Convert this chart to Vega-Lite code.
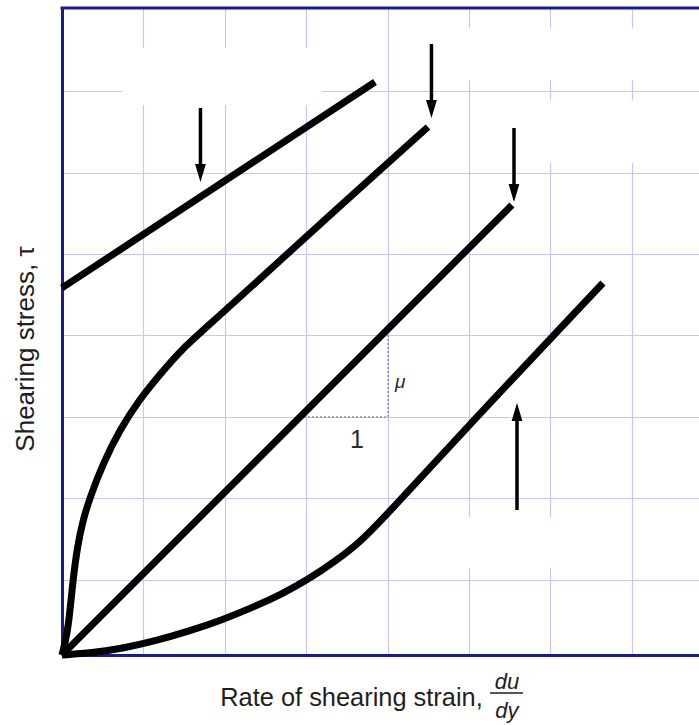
{
  "$schema": "https://vega.github.io/schema/vega-lite/v6.json",
  "width": 637,
  "height": 647,
  "autosize": {"type": "none"},
  "padding": {"left": 62, "top": 8, "right": 0, "bottom": 70},
  "background": "white",
  "config": {"view": {"stroke": null}, "font": "Liberation Sans"},
  "datasets": {
    "masks": [
      {"x0": 0.737, "x1": 3.194, "y0": 6.757, "y1": 7.457},
      {"x0": 4.705, "x1": 7.826, "y0": 7.064, "y1": 7.703},
      {"x0": 5.688, "x1": 7.826, "y0": 6.044, "y1": 6.818},
      {"x0": 4.95, "x1": 6.61, "y0": 1.069, "y1": 1.695}
    ],
    "curves": [
      {"curve": "bingham", "x": 0, "y": 4.509},
      {"curve": "bingham", "x": 3.845, "y": 7.039},
      {"curve": "thinning", "x": 0, "y": 0},
      {"curve": "thinning", "x": 0.061, "y": 0.246},
      {"curve": "thinning", "x": 0.095, "y": 0.512},
      {"curve": "thinning", "x": 0.135, "y": 0.921},
      {"curve": "thinning", "x": 0.188, "y": 1.33},
      {"curve": "thinning", "x": 0.258, "y": 1.658},
      {"curve": "thinning", "x": 0.34, "y": 1.925},
      {"curve": "thinning", "x": 0.504, "y": 2.355},
      {"curve": "thinning", "x": 0.709, "y": 2.764},
      {"curve": "thinning", "x": 0.946, "y": 3.133},
      {"curve": "thinning", "x": 1.229, "y": 3.477},
      {"curve": "thinning", "x": 1.474, "y": 3.759},
      {"curve": "thinning", "x": 1.781, "y": 4.029},
      {"curve": "thinning", "x": 3.538, "y": 5.627},
      {"curve": "thinning", "x": 4.496, "y": 6.486},
      {"curve": "newtonian", "x": 0, "y": 0},
      {"curve": "newtonian", "x": 5.528, "y": 5.528},
      {"curve": "thickening", "x": 0, "y": 0},
      {"curve": "thickening", "x": 0.369, "y": 0.025},
      {"curve": "thickening", "x": 0.737, "y": 0.08},
      {"curve": "thickening", "x": 1.143, "y": 0.172},
      {"curve": "thickening", "x": 1.548, "y": 0.289},
      {"curve": "thickening", "x": 1.966, "y": 0.43},
      {"curve": "thickening", "x": 2.371, "y": 0.596},
      {"curve": "thickening", "x": 2.703, "y": 0.749},
      {"curve": "thickening", "x": 3.034, "y": 0.934},
      {"curve": "thickening", "x": 3.354, "y": 1.149},
      {"curve": "thickening", "x": 3.661, "y": 1.388},
      {"curve": "thickening", "x": 3.919, "y": 1.646},
      {"curve": "thickening", "x": 5.012, "y": 2.838},
      {"curve": "thickening", "x": 6.646, "y": 4.57}
    ],
    "guides": [
      {"x": 2.924, "y": 2.924, "x2": 4.005, "y2": 2.924},
      {"x": 4.005, "y": 2.924, "x2": 4.005, "y2": 4.0}
    ],
    "arrows": [
      {"x": 1.701, "tail": 6.72, "tip": 5.811, "dir": "down"},
      {"x": 4.539, "tail": 7.506, "tip": 6.597, "dir": "down"},
      {"x": 5.553, "tail": 6.474, "tip": 5.565, "dir": "down"},
      {"x": 5.59, "tail": 1.781, "tip": 3.096, "dir": "up"}
    ],
    "notes": [
      {"key": "one", "t": "1", "x": 3.624, "y": 2.543},
      {"key": "mu", "t": "μ", "x": 4.09, "y": 3.28},
      {"key": "du", "t": "du", "x": 5.467, "y": -0.418},
      {"key": "dy", "t": "dy", "x": 5.467, "y": -0.774}
    ],
    "bar": [{"x": 5.258, "x2": 5.663, "y": -0.467}]
  },
  "layer": [
    {
      "data": {"name": "masks"},
      "mark": {"type": "rect", "color": "white"},
      "encoding": {
        "x": {
          "field": "x0",
          "type": "quantitative",
          "scale": {"domain": [0, 7.826], "nice": false, "zero": false},
          "axis": {
            "title": "Rate of shearing strain,",
            "values": [1, 2, 3, 4, 5, 6, 7],
            "grid": true,
            "labels": false,
            "ticks": false,
            "domainColor": "#1b1b8f",
            "domainWidth": 3,
            "gridColor": "#c6c6fb",
            "gridWidth": 1.2,
            "titleFont": "Liberation Sans",
            "titleFontSize": 25.4,
            "titleFontWeight": "normal",
            "titleColor": "#1e1e1e",
            "titleX": 289,
            "titleY": 50,
            "titleAlign": "center",
            "titleBaseline": "alphabetic"
          }
        },
        "x2": {"field": "x1"},
        "y": {
          "field": "y0",
          "type": "quantitative",
          "scale": {"domain": [0, 7.948], "nice": false, "zero": false},
          "axis": {
            "title": "Shearing stress, τ",
            "values": [0.925, 1.925, 2.925, 3.925, 4.925, 5.925, 6.925],
            "grid": true,
            "labels": false,
            "ticks": false,
            "domainColor": "#1b1b8f",
            "domainWidth": 3,
            "gridColor": "#c6c6fb",
            "gridWidth": 1.2,
            "titleFont": "Liberation Sans",
            "titleFontSize": 26,
            "titleFontWeight": "normal",
            "titleColor": "#1e1e1e",
            "titleAngle": -90,
            "titleX": -29,
            "titleY": 340.5,
            "titleAlign": "center",
            "titleBaseline": "alphabetic"
          }
        },
        "y2": {"field": "y1"}
      }
    },
    {
      "data": {"values": [{}]},
      "mark": {"type": "rule", "color": "#1b1b8f", "strokeWidth": 3, "strokeCap": "square"},
      "encoding": {"y": {"datum": 7.948, "type": "quantitative"}}
    },
    {
      "data": {"name": "guides"},
      "mark": {"type": "rule", "color": "#666666", "strokeWidth": 1, "strokeDash": [2, 2]},
      "encoding": {
        "x": {"field": "x", "type": "quantitative"},
        "x2": {"field": "x2"},
        "y": {"field": "y", "type": "quantitative"},
        "y2": {"field": "y2"}
      }
    },
    {
      "data": {"name": "curves"},
      "mark": {"type": "line", "interpolate": "basis", "color": "black", "strokeWidth": 7, "strokeCap": "butt"},
      "encoding": {
        "x": {"field": "x", "type": "quantitative"},
        "y": {"field": "y", "type": "quantitative"},
        "detail": {"field": "curve"}
      }
    },
    {
      "data": {"name": "arrows"},
      "transform": [{"filter": "datum.dir === 'down'"}],
      "layer": [
        {
          "mark": {"type": "rule", "color": "black", "strokeWidth": 3.5, "y2Offset": -10},
          "encoding": {
            "x": {"field": "x", "type": "quantitative"},
            "y": {"field": "tail", "type": "quantitative"},
            "y2": {"field": "tip"}
          }
        },
        {
          "mark": {"type": "point", "shape": "M-0.6,-1L0.6,-1L0,1Z", "size": 324, "filled": true, "color": "black", "opacity": 1, "strokeWidth": 0, "yOffset": -9},
          "encoding": {
            "x": {"field": "x", "type": "quantitative"},
            "y": {"field": "tip", "type": "quantitative"}
          }
        }
      ]
    },
    {
      "data": {"name": "arrows"},
      "transform": [{"filter": "datum.dir === 'up'"}],
      "layer": [
        {
          "mark": {"type": "rule", "color": "black", "strokeWidth": 3.5, "y2Offset": 10},
          "encoding": {
            "x": {"field": "x", "type": "quantitative"},
            "y": {"field": "tail", "type": "quantitative"},
            "y2": {"field": "tip"}
          }
        },
        {
          "mark": {"type": "point", "shape": "M-0.6,1L0.6,1L0,-1Z", "size": 324, "filled": true, "color": "black", "opacity": 1, "strokeWidth": 0, "yOffset": 9},
          "encoding": {
            "x": {"field": "x", "type": "quantitative"},
            "y": {"field": "tip", "type": "quantitative"}
          }
        }
      ]
    },
    {
      "data": {"name": "notes"},
      "transform": [{"filter": "datum.key === 'one'"}],
      "mark": {"type": "text", "font": "Liberation Sans", "fontSize": 25, "color": "#2a2a2a", "align": "center", "baseline": "alphabetic"},
      "encoding": {
        "x": {"field": "x", "type": "quantitative"},
        "y": {"field": "y", "type": "quantitative"},
        "text": {"field": "t"}
      }
    },
    {
      "data": {"name": "notes"},
      "transform": [{"filter": "datum.key === 'mu'"}],
      "mark": {"type": "text", "font": "Liberation Sans", "fontSize": 19, "fontStyle": "italic", "color": "#2a2a2a", "align": "left", "baseline": "alphabetic"},
      "encoding": {
        "x": {"field": "x", "type": "quantitative"},
        "y": {"field": "y", "type": "quantitative"},
        "text": {"field": "t"}
      }
    },
    {
      "data": {"name": "notes"},
      "transform": [{"filter": "datum.key === 'du' || datum.key === 'dy'"}],
      "mark": {"type": "text", "font": "Liberation Sans", "fontSize": 22, "fontStyle": "italic", "color": "#1e1e1e", "align": "center", "baseline": "alphabetic"},
      "encoding": {
        "x": {"field": "x", "type": "quantitative"},
        "y": {"field": "y", "type": "quantitative"},
        "text": {"field": "t"}
      }
    },
    {
      "data": {"name": "bar"},
      "mark": {"type": "rule", "color": "#1e1e1e", "strokeWidth": 1.5},
      "encoding": {
        "x": {"field": "x", "type": "quantitative"},
        "x2": {"field": "x2"},
        "y": {"field": "y", "type": "quantitative"}
      }
    }
  ]
}
